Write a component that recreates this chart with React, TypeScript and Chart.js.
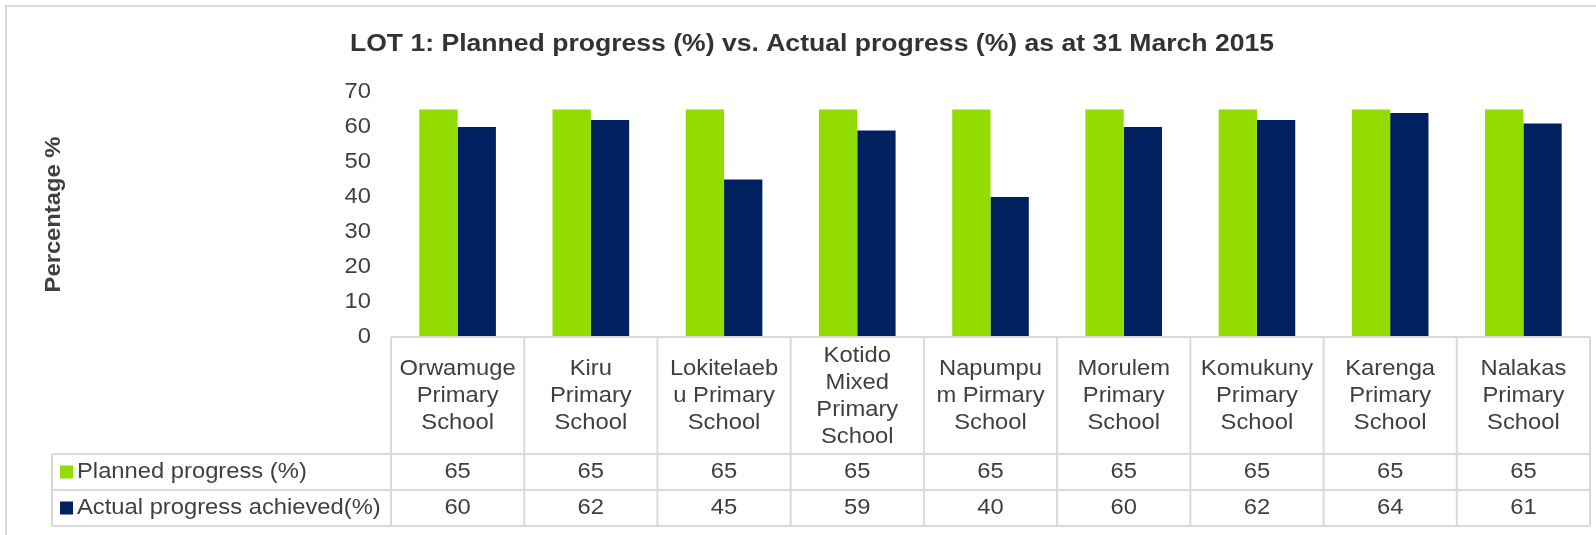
import React, { useEffect, useRef } from "react";
import { Chart, registerables } from "chart.js";

Chart.register(...registerables);

const categoryLines: string[][] = [
  ["Orwamuge", "Primary", "School"],
  ["Kiru", "Primary", "School"],
  ["Lokitelaeb", "u Primary", "School"],
  ["Kotido", "Mixed", "Primary", "School"],
  ["Napumpu", "m Pirmary", "School"],
  ["Morulem", "Primary", "School"],
  ["Komukuny", "Primary", "School"],
  ["Karenga", "Primary", "School"],
  ["Nalakas", "Primary", "School"],
];
const plannedLabel = "Planned progress (%)";
const actualLabel = "Actual progress achieved(%)";
const planned = [65, 65, 65, 65, 65, 65, 65, 65, 65];
const actual = [60, 62, 45, 59, 40, 60, 62, 64, 61];
const yTicks = [0, 10, 20, 30, 40, 50, 60, 70];
const titleText = "LOT 1: Planned progress (%) vs. Actual progress (%) as at 31 March 2015";
const yTitle = "Percentage %";

const GREEN = "#92DC00";
const BLUE = "#002060";
const TEXT = "#404040";
const LINE = "#d9d9d9";
const FONT = "'Liberation Sans', Arial, sans-serif";
const SX = 1.08;

function txt(ctx: CanvasRenderingContext2D, s: string, x: number, y: number, align: CanvasTextAlign, rot = 0) {
  ctx.save();
  ctx.translate(x, y);
  if (rot) ctx.rotate(rot);
  ctx.scale(SX, 1);
  ctx.textAlign = align;
  ctx.textBaseline = "middle";
  ctx.fillText(s, 0, 0);
  ctx.restore();
}

const tablePlugin = {
  id: "tablePlugin",
  afterDraw(chart: any) {
    const ctx: CanvasRenderingContext2D = chart.ctx;
    const xs = chart.scales.x;
    const ys = chart.scales.y;
    const area = chart.chartArea;
    const n = categoryLines.length;
    const colW = (area.right - area.left) / n;
    const top = ys.getPixelForValue(0);
    const rowA = 454;
    const rowB = 490;
    const rowC = 526;
    const legLeft = 52;

    ctx.save();
    // outer border
    ctx.strokeStyle = LINE;
    ctx.lineWidth = 2;
    ctx.beginPath();
    ctx.moveTo(6, 540);
    ctx.lineTo(6, 6);
    ctx.lineTo(1600, 6);
    ctx.stroke();

    // title
    ctx.fillStyle = "#333333";
    ctx.font = `bold 24.6px ${FONT}`;
    txt(ctx, titleText, 812, 44, "center");

    // y title
    ctx.fillStyle = TEXT;
    ctx.font = `bold 22px ${FONT}`;
    txt(ctx, yTitle, 54, ys.getPixelForValue(35), "center", -Math.PI / 2);

    // y ticks
    ctx.font = `22px ${FONT}`;
    for (const t of yTicks) {
      txt(ctx, String(t), 371, ys.getPixelForValue(t), "right");
    }

    // table lines
    ctx.strokeStyle = LINE;
    ctx.lineWidth = 2;
    ctx.beginPath();
    ctx.moveTo(area.left, top);
    ctx.lineTo(area.right, top);
    for (const y of [rowA, rowB, rowC]) {
      ctx.moveTo(legLeft, y);
      ctx.lineTo(area.right, y);
    }
    for (let i = 0; i <= n; i++) {
      const x = area.left + i * colW;
      ctx.moveTo(x, top);
      ctx.lineTo(x, rowC);
    }
    ctx.moveTo(legLeft, rowA);
    ctx.lineTo(legLeft, rowC);
    ctx.stroke();

    // category labels & values
    ctx.fillStyle = TEXT;
    ctx.font = `22px ${FONT}`;
    const lh = 27;
    const mid = 396;
    categoryLines.forEach((lines, i) => {
      const cx = xs.getPixelForValue(i);
      const y0 = mid - ((lines.length - 1) * lh) / 2;
      lines.forEach((l, j) => txt(ctx, l, cx, y0 + j * lh, "center"));
      txt(ctx, String(planned[i]), cx, (rowA + rowB) / 2, "center");
      txt(ctx, String(actual[i]), cx, (rowB + rowC) / 2, "center");
    });

    // legend keys
    const r1 = (rowA + rowB) / 2;
    const r2 = (rowB + rowC) / 2;
    ctx.fillStyle = GREEN;
    ctx.fillRect(60, r1 - 6.5, 13, 13);
    ctx.fillStyle = BLUE;
    ctx.fillRect(60, r2 - 6.5, 13, 13);
    ctx.fillStyle = TEXT;
    txt(ctx, plannedLabel, 77, r1, "left");
    txt(ctx, actualLabel, 77, r2, "left");
    ctx.restore();
  },
};

export default function App() {
  const ref = useRef<HTMLCanvasElement>(null);
  useEffect(() => {
    if (!ref.current) return;
    const chart = new Chart(ref.current, {
      type: "bar",
      data: {
        labels: categoryLines.map((l) => l.join(" ")),
        datasets: [
          { label: plannedLabel, data: planned, backgroundColor: GREEN, borderWidth: 0 },
          { label: actualLabel, data: actual, backgroundColor: BLUE, borderWidth: 0 },
        ],
      },
      options: {
        animation: false,
        responsive: false,
        devicePixelRatio: 1,
        layout: { padding: { left: 391, right: 6, top: 92, bottom: 198 } },
        datasets: { bar: { categoryPercentage: 0.575, barPercentage: 1 } },
        plugins: { legend: { display: false }, title: { display: false }, tooltip: { enabled: false } },
        scales: {
          x: { display: false },
          y: { display: false, min: 0, max: 70 },
        },
      },
      plugins: [tablePlugin],
    });
    return () => chart.destroy();
  }, []);
  return (
    <div style={{ position: "fixed", left: 0, top: 0, width: 1596, height: 535, background: "#fff" }}>
      <canvas ref={ref} width={1596} height={535} style={{ display: "block" }} />
    </div>
  );
}
